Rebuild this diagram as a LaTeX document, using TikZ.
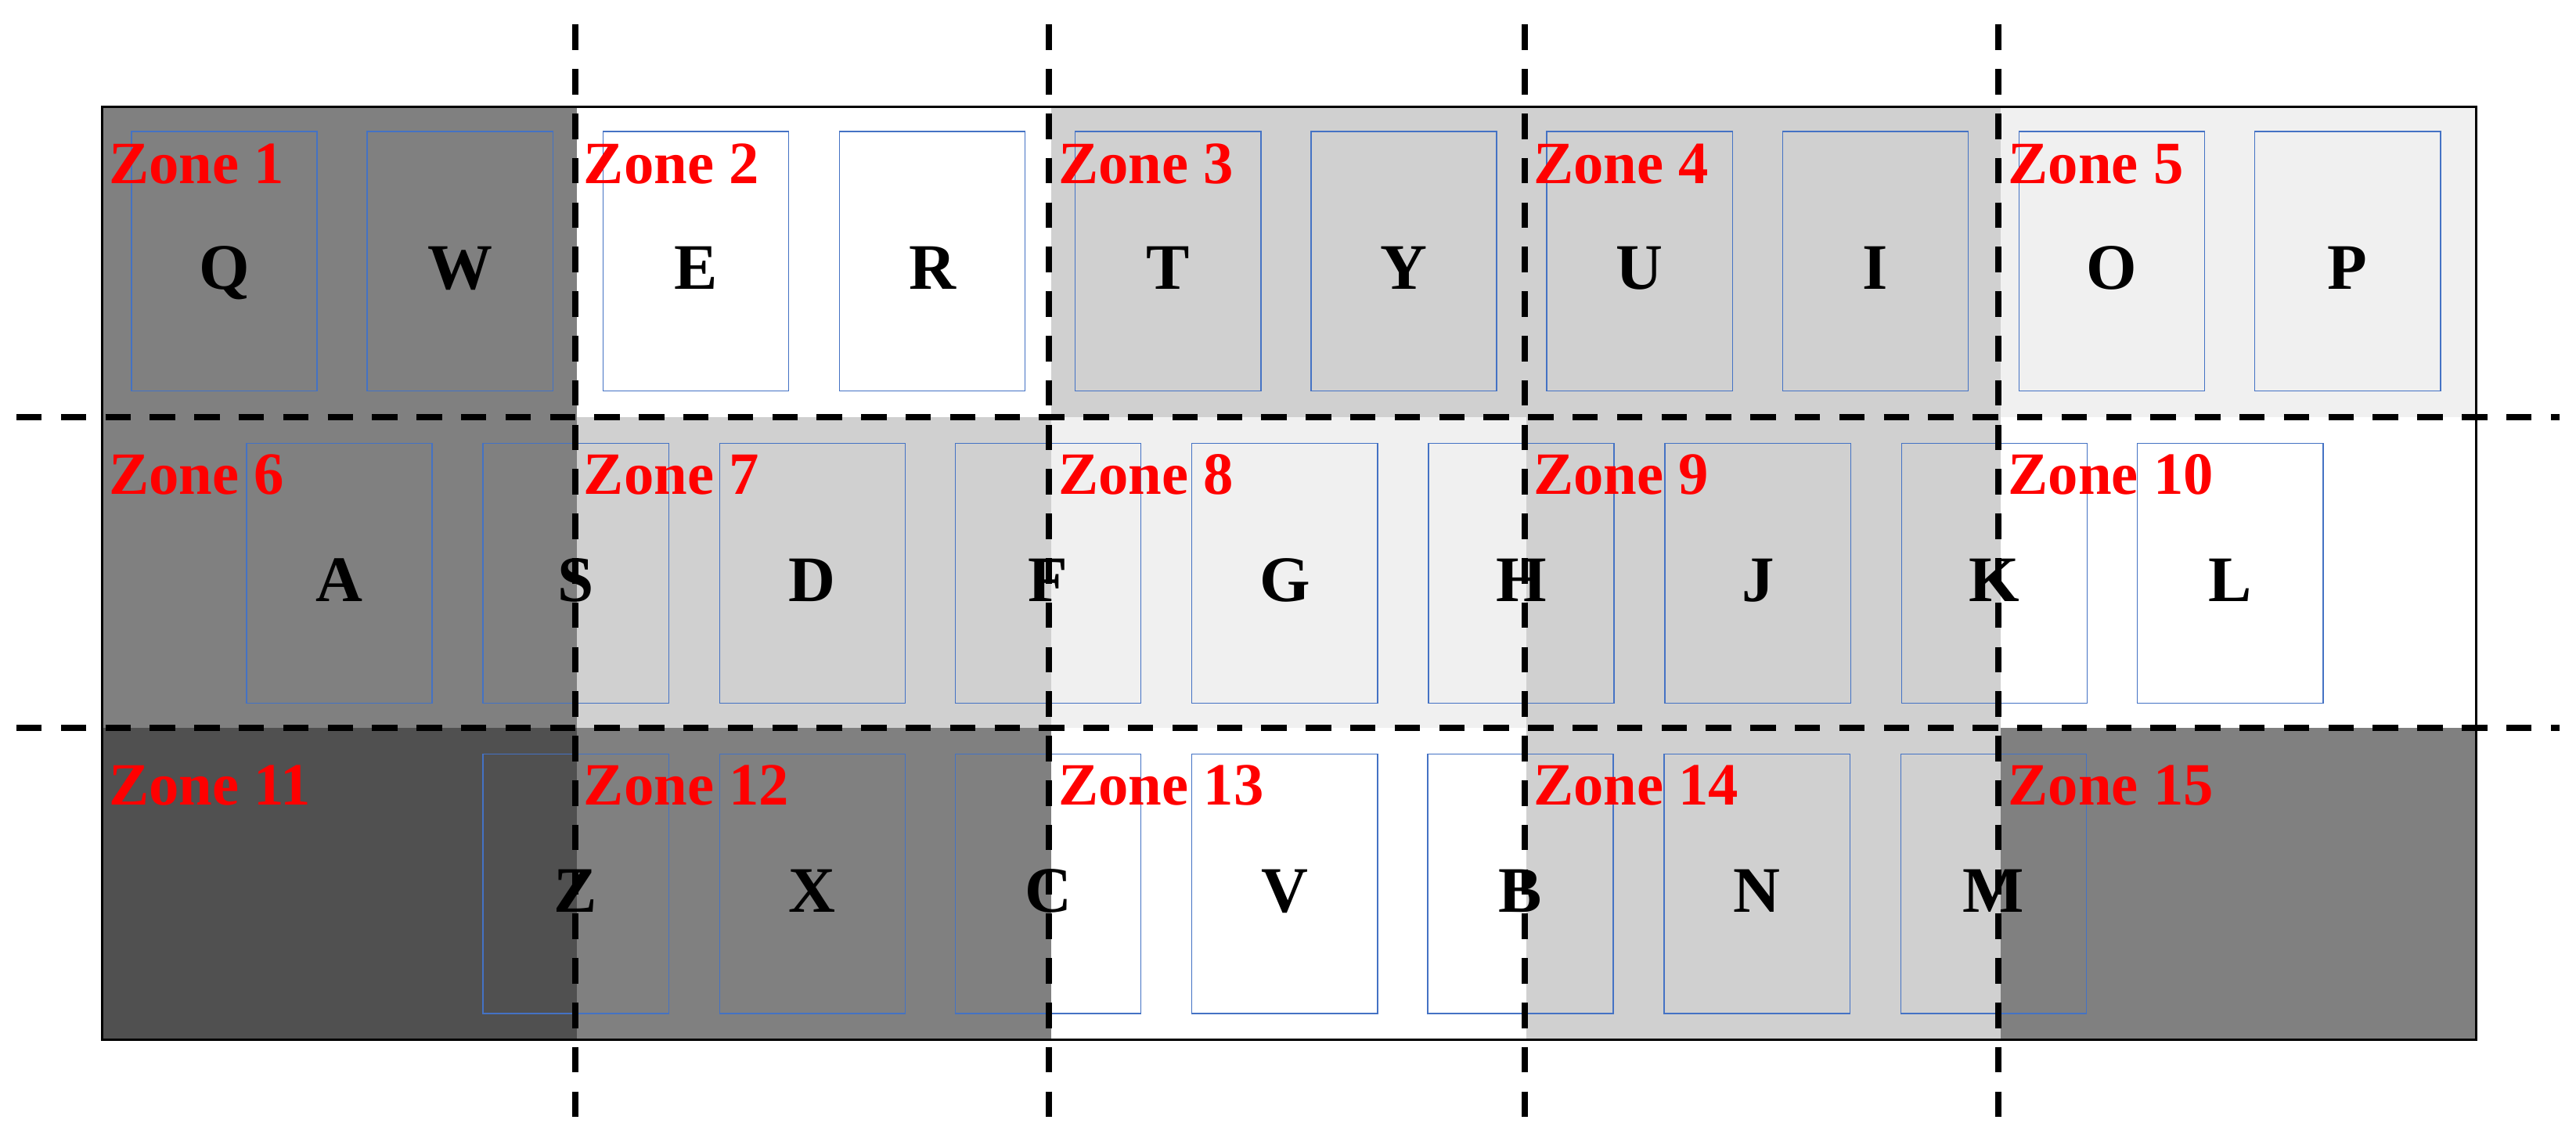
\documentclass[tikz,border=0pt]{standalone}
\usepackage{fontspec}
\setmainfont{Liberation Serif}
\definecolor{keyblue}{RGB}{68,114,196}
\definecolor{darkzone}{RGB}{80,80,80}
\definecolor{midzone}{RGB}{128,128,128}
\definecolor{lightzone}{RGB}{208,208,208}
\definecolor{palezone}{RGB}{240,240,240}
\tikzset{
  key/.style={draw=keyblue,line width=0.4pt,minimum width=2.26cm,minimum height=3.16cm,
    inner sep=0pt,text height=19.5pt,text depth=0pt,font=\bfseries\fontsize{22.5}{22.5}\selectfont},
  zonelabel/.style={anchor=west,inner sep=0pt,text=red,font=\bfseries\fontsize{20.8}{20.8}\selectfont},
  split/.style={line width=2.2pt,dash pattern=on 8.8pt off 6.6pt}
}
\begin{document}
\begin{tikzpicture}
  \useasboundingbox (0,0) rectangle (31.36,13.72);

  % zone shading
  \fill[midzone] (1.24,12.42) rectangle (7.02,8.64);
  \fill[white] (7.02,12.42) rectangle (12.80,8.64);
  \fill[lightzone] (12.80,12.42) rectangle (18.58,8.64);
  \fill[lightzone] (18.58,12.42) rectangle (24.36,8.64);
  \fill[palezone] (24.36,12.42) rectangle (30.14,8.64);

  \fill[midzone] (1.24,8.64) rectangle (7.02,4.86);
  \fill[lightzone] (7.02,8.64) rectangle (12.80,4.86);
  \fill[palezone] (12.80,8.64) rectangle (18.58,4.86);
  \fill[lightzone] (18.58,8.64) rectangle (24.36,4.86);
  \fill[white] (24.36,8.64) rectangle (30.14,4.86);

  \fill[darkzone] (1.24,4.86) rectangle (7.02,1.06);
  \fill[midzone] (7.02,4.86) rectangle (12.80,1.06);
  \fill[white] (12.80,4.86) rectangle (18.58,1.06);
  \fill[lightzone] (18.58,4.86) rectangle (24.36,1.06);
  \fill[midzone] (24.36,4.86) rectangle (30.14,1.06);

  \draw[line width=0.8pt] (1.24,12.42) rectangle (30.14,1.06);

  % keys
  \node[key] (Q) at (2.73,10.54) {Q};
  \node[key] (W) at (5.60,10.54) {W};
  \node[key] (E) at (8.47,10.54) {E};
  \node[key] (R) at (11.35,10.54) {R};
  \node[key] (T) at (14.22,10.54) {T};
  \node[key] (Y) at (17.09,10.54) {Y};
  \node[key] (U) at (19.96,10.54) {U};
  \node[key] (I) at (22.83,10.54) {I};
  \node[key] (O) at (25.71,10.54) {O};
  \node[key] (P) at (28.58,10.54) {P};

  \node[key] (A) at (4.13,6.74) {A};
  \node[key] (S) at (7.01,6.74) {S};
  \node[key] (D) at (9.89,6.74) {D};
  \node[key] (F) at (12.76,6.74) {F};
  \node[key] (G) at (15.64,6.74) {G};
  \node[key] (H) at (18.52,6.74) {H};
  \node[key] (J) at (21.40,6.74) {J};
  \node[key] (K) at (24.28,6.74) {K};
  \node[key] (L) at (27.15,6.74) {L};

  \node[key] (Z) at (7.01,2.96) {Z};
  \node[key] (X) at (9.89,2.96) {X};
  \node[key] (C) at (12.76,2.96) {C};
  \node[key] (V) at (15.64,2.96) {V};
  \node[key] (B) at (18.51,2.96) {B};
  \node[key] (N) at (21.39,2.96) {N};
  \node[key] (M) at (24.27,2.96) {M};

  % zone labels
  \node[zonelabel] (zone1) at (1.32,11.72) {Zone 1};
  \node[zonelabel] (zone2) at (7.10,11.72) {Zone 2};
  \node[zonelabel] (zone3) at (12.88,11.72) {Zone 3};
  \node[zonelabel] (zone4) at (18.66,11.72) {Zone 4};
  \node[zonelabel] (zone5) at (24.44,11.72) {Zone 5};
  \node[zonelabel] (zone6) at (1.32,7.94) {Zone 6};
  \node[zonelabel] (zone7) at (7.10,7.94) {Zone 7};
  \node[zonelabel] (zone8) at (12.88,7.94) {Zone 8};
  \node[zonelabel] (zone9) at (18.66,7.94) {Zone 9};
  \node[zonelabel] (zone10) at (24.44,7.94) {Zone 10};
  \node[zonelabel] (zone11) at (1.32,4.16) {Zone 11};
  \node[zonelabel] (zone12) at (7.10,4.16) {Zone 12};
  \node[zonelabel] (zone13) at (12.88,4.16) {Zone 13};
  \node[zonelabel] (zone14) at (18.66,4.16) {Zone 14};
  \node[zonelabel] (zone15) at (24.44,4.16) {Zone 15};

  % zone borders
  \draw[split] (7.00,13.42) -- (7.00,0);
  \draw[split] (12.77,13.42) -- (12.77,0);
  \draw[split] (18.56,13.42) -- (18.56,0);
  \draw[split] (24.33,13.42) -- (24.33,0);
  \draw[split] (0.20,8.64) -- (31.16,8.64);
  \draw[split] (0.20,4.86) -- (31.16,4.86);

\end{tikzpicture}
\end{document}
